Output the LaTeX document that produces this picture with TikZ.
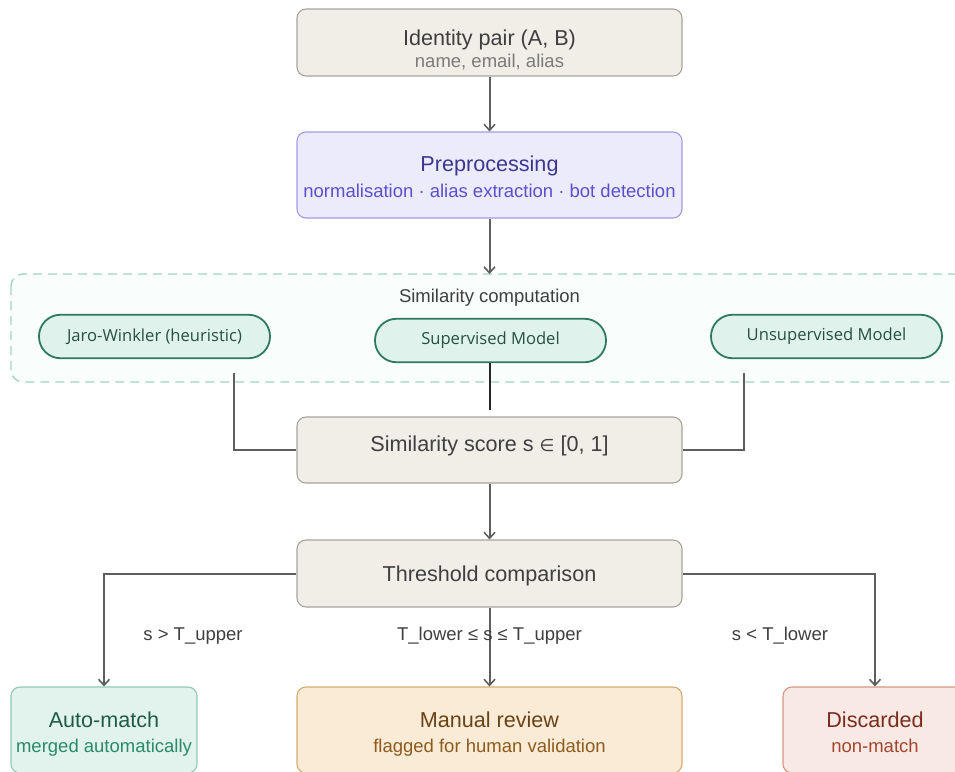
\documentclass[tikz,border=0pt]{standalone}
\usepackage{fontspec}
\setmainfont{Liberation Sans}
\newfontfamily\pillfont{Open Sans}
\newfontfamily\symfont{DejaVu Sans}
\usetikzlibrary{arrows.meta}

\definecolor{beigefill}{HTML}{F1EEE8}
\definecolor{beigeline}{HTML}{A8A49C}
\definecolor{inktext}{HTML}{3F3F3F}
\definecolor{softtext}{HTML}{7A7A7A}
\definecolor{lavfill}{HTML}{ECEBFB}
\definecolor{lavline}{HTML}{A39BE6}
\definecolor{lavtitle}{HTML}{3D378F}
\definecolor{lavsub}{HTML}{5A50CC}
\definecolor{groupline}{HTML}{A3D3C3}
\definecolor{groupfill}{HTML}{F9FDFC}
\definecolor{pillfill}{HTML}{E0F2EC}
\definecolor{pillline}{HTML}{2E7A60}
\definecolor{pilltext}{HTML}{254F41}
\definecolor{wire}{HTML}{5E5E5E}
\definecolor{wiredark}{HTML}{262626}
\definecolor{okfill}{HTML}{E1F3EC}
\definecolor{okline}{HTML}{8FCBB6}
\definecolor{oktitle}{HTML}{1E5C48}
\definecolor{oksub}{HTML}{2A8A6B}
\definecolor{revfill}{HTML}{FAEBD7}
\definecolor{revline}{HTML}{D8AA6E}
\definecolor{revtitle}{HTML}{6A4216}
\definecolor{revsub}{HTML}{8E5B1F}
\definecolor{rejfill}{HTML}{F9E9E5}
\definecolor{rejline}{HTML}{D9937F}
\definecolor{rejtitle}{HTML}{7A2D1D}
\definecolor{rejsub}{HTML}{A2462E}

\tikzset{
  box/.style={draw, rounded corners=9pt, line width=1.1pt, minimum width=385pt, inner sep=0pt},
  plainbox/.style={box, fill=beigefill, draw=beigeline},
  titletext/.style={anchor=base, inner sep=0pt, font=\fontsize{21.6}{24}\selectfont},
  subtext/.style={anchor=base, inner sep=0pt, font=\fontsize{18.5}{22}\selectfont},
  pill/.style={draw=pillline, fill=pillfill, line width=1.8pt, rounded corners=21.5pt,
    minimum width=231pt, minimum height=43.5pt, inner sep=0pt, text=pilltext,
    font=\pillfont\fontsize{16.6}{20}\selectfont},
  flow/.style={draw=wire, line width=2pt, -{Straight Barb[length=6pt,width=11pt,line width=1.6pt]}},
  joint/.style={draw=wire, line width=2pt},
  edgelabel/.style={anchor=base, inner sep=0pt, text=inktext, font=\fontsize{18.5}{22}\selectfont}
}

\begin{document}
\begin{tikzpicture}[x=1pt, y=-1pt]
\useasboundingbox (0,0) rectangle (955,771);

% input pair
\node[plainbox, minimum height=67pt] (pair) at (489.5,42.5) {};
\node[titletext, text=inktext] (pairtitle) at (489.5,45) {Identity pair (A, B)};
\node[subtext, text=softtext] (pairsub) at (489.5,67) {name, email, alias};

% preprocessing
\node[box, fill=lavfill, draw=lavline, minimum height=86pt] (prep) at (489.5,175) {};
\node[titletext, text=lavtitle] (preptitle) at (489.5,171.5) {Preprocessing};
\node[subtext, text=lavsub] (prepsub) at (489.5,197.5) {normalisation · alias extraction · bot detection};

% similarity computation group
\draw[draw=groupline, fill=groupfill, line width=1.4pt, dash pattern=on 9pt off 6pt, rounded corners=12pt]
  (11,274) rectangle (975,382);
\coordinate (grouptop) at (489.5,274);
\node[subtext, text=inktext] (grouplabel) at (489.5,302.5) {Similarity computation};

\node[pill] (jw) at (154.5,336.5) {Jaro-Winkler (heuristic)};
\node[pill] (sup) at (490.5,340.5) {Supervised Model};
\node[pill] (unsup) at (826.5,336.5) {Unsupervised Model};

% similarity score
\node[plainbox, minimum height=66pt] (score) at (489.5,450) {};
\node[titletext, text=inktext] (scoretitle) at (489.5,451.5)
  {Similarity score s {\symfont\fontsize{17}{20}\selectfont ∈} [0, 1]};

% threshold comparison
\node[plainbox, minimum height=67pt] (thr) at (489.5,573.5) {};
\node[titletext, text=inktext] (thrtitle) at (489.5,581) {Threshold comparison};

% outcomes
\node[box, fill=okfill, draw=okline, minimum width=186pt, minimum height=86pt] (auto) at (104,730) {};
\node[titletext, text=oktitle] (autotitle) at (104,727) {Auto-match};
\node[subtext, text=oksub] (autosub) at (104,752) {merged automatically};

\node[box, fill=revfill, draw=revline, minimum height=86pt] (review) at (489.5,730) {};
\node[titletext, text=revtitle] (reviewtitle) at (489.5,727) {Manual review};
\node[subtext, text=revsub] (reviewsub) at (489.5,752) {flagged for human validation};

\node[box, fill=rejfill, draw=rejline, minimum width=186pt, minimum height=86pt] (drop) at (876,730) {};
\node[titletext, text=rejtitle] (droptitle) at (875,727) {Discarded};
\node[subtext, text=rejsub] (dropsub) at (875,752) {non-match};

% connectors
\draw[flow] (pair.south) -- (prep.north);
\draw[flow] (prep.south) -- (grouptop);

\coordinate (jwfoot) at (234,373);
\coordinate (unsupfoot) at (744,373);
\coordinate (supend) at (490,410);
\draw[joint] (jwfoot) |- (score.west);
\draw[joint] (unsupfoot) |- (score.east);
\draw[draw=wiredark, line width=1.8pt] (sup.south -| supend) -- (supend);

\draw[flow] (score.south) -- (thr.north);
\draw[flow] (thr.west) -| (auto.north);
\draw[flow] (thr.south) -- (review.north);
\draw[flow] (thr.east) -| (droptitle.north |- drop.north);

\node[edgelabel] (lblhigh) at (193,640) {s > T\_upper};
\node[edgelabel] (lblmid) at (489.5,640) {T\_lower ≤ s ≤ T\_upper};
\node[edgelabel] (lbllow) at (780,640) {s < T\_lower};
\end{tikzpicture}
\end{document}
